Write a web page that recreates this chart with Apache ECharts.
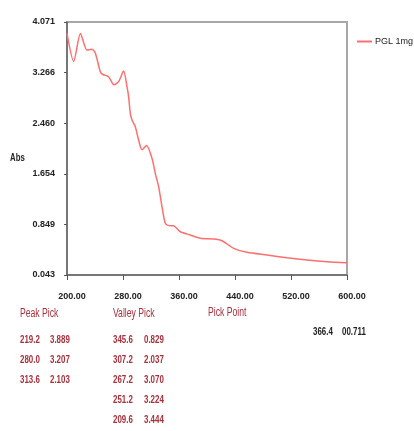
<!DOCTYPE html>
<html><head><meta charset="utf-8">
<script src="https://cdn.jsdelivr.net/npm/echarts@6/dist/echarts.min.js"></script>
<style>html,body{margin:0;padding:0;background:#fff}#c{width:414px;height:431px}</style>
</head><body><div id="c"></div>
<script>
const wavelength = [200, 209.6, 219.2, 228.6, 235.7, 240.4, 247.6, 251.2, 259.4, 267.2, 273.7, 280.9, 285.7, 288, 290.4, 292.9, 297.6, 302.3, 307.2, 313.6, 321.4, 326.1, 330.9, 335.7, 340.4, 345.6, 352.3, 361.9, 376.1, 390.4, 409.4, 421.4, 438, 457.1, 485.7, 514.3, 542.9, 571.4, 600];
const absorbance = [3.891, 3.444, 3.889, 3.625, 3.636, 3.577, 3.280, 3.235, 3.200, 3.070, 3.121, 3.290, 3.041, 2.882, 2.617, 2.511, 2.404, 2.192, 2.037, 2.103, 1.901, 1.662, 1.449, 1.130, 0.866, 0.829, 0.826, 0.732, 0.680, 0.627, 0.616, 0.589, 0.468, 0.404, 0.361, 0.318, 0.282, 0.255, 0.239];
const seriesName = 'PGL 1mg';
const yTicks = [0.043, 0.849, 1.654, 2.460, 3.266, 4.071];
const xTicks = [200, 280, 360, 440, 520, 600];
const peakWl = ['219.2', '280.0', '313.6'];
const peakAbs = ['3.889', '3.207', '2.103'];
const valleyWl = ['345.6', '307.2', '267.2', '251.2', '209.6'];
const valleyAbs = ['0.829', '2.037', '3.070', '3.224', '3.444'];
const pickPoint = ['366.4', '00.711'];

const FONT = '"Liberation Sans",Arial,sans-serif';
const RED = '#a8303c';
const graphics = [];
function txt(x, y, s, color, size, bold, sx) {
  graphics.push({type: 'text', x: x, y: y, scaleX: sx || 0.72, scaleY: 1,
    style: {text: s, fill: color, verticalAlign: 'middle', align: 'left',
      font: (bold ? 'bold ' : '') + (size || 11) + 'px ' + FONT}});
}
txt(10, 158, 'Abs', '#222', 10, true, 0.78);
txt(20, 314, 'Peak Pick', RED, 12);
txt(113, 314, 'Valley Pick', RED, 12);
txt(208, 313, 'Pick Point', RED, 12);
peakWl.forEach((w, i) => { txt(20, 340 + i * 20, w, RED, 11, true); txt(50, 340 + i * 20, peakAbs[i], RED, 11, true); });
valleyWl.forEach((w, i) => { txt(113, 340 + i * 20, w, RED, 11, true); txt(144, 340 + i * 20, valleyAbs[i], RED, 11, true); });
txt(313, 332, pickPoint[0], '#222', 11, true);
txt(342, 332, pickPoint[1], '#222', 11, true);

const chart = echarts.init(document.getElementById('c'));
chart.setOption({
  animation: false,
  backgroundColor: '#fff',
  grid: {left: 67, right: 67, top: 22, bottom: 156, show: true, borderColor: '#a8a8a8', borderWidth: 2, backgroundColor: 'transparent'},
  legend: {left: 357, top: 37, icon: 'rect', itemWidth: 15, itemHeight: 2, itemGap: 4, padding: 0,
    textStyle: {fontFamily: FONT, fontSize: 9, color: '#222', padding: [0, 0, 0, -2]}, data: [seriesName]},
  xAxis: {type: 'value', min: 200, max: 600, interval: 80,
    axisLine: {show: true, onZero: false, lineStyle: {color: '#666', width: 1.5}},
    axisTick: {show: true, length: 5, lineStyle: {color: '#555'}},
    splitLine: {show: false},
    axisLabel: {customValues: xTicks, margin: 17, padding: [0, 0, 0, 10], formatter: v => v.toFixed(2), fontFamily: FONT, fontSize: 9, color: '#222', fontWeight: 'bold'}},
  yAxis: {type: 'value', min: 0.043, max: 4.071,
    axisLine: {show: true, lineStyle: {color: '#666', width: 1.5}},
    axisTick: {show: true, customValues: yTicks, length: 3, lineStyle: {color: '#555'}},
    splitLine: {show: false},
    axisLabel: {customValues: yTicks, margin: 12, formatter: v => v.toFixed(3), fontFamily: FONT, fontSize: 9, color: '#222', fontWeight: 'bold'}},
  series: [{name: seriesName, type: 'line', symbol: 'none', smooth: 0.25,
    data: wavelength.map((w, i) => [w, absorbance[i]]),
    lineStyle: {color: '#ff6f6f', width: 1.5}, itemStyle: {color: '#ff6f6f'}}],
  graphic: graphics
});
</script>
</body></html>
